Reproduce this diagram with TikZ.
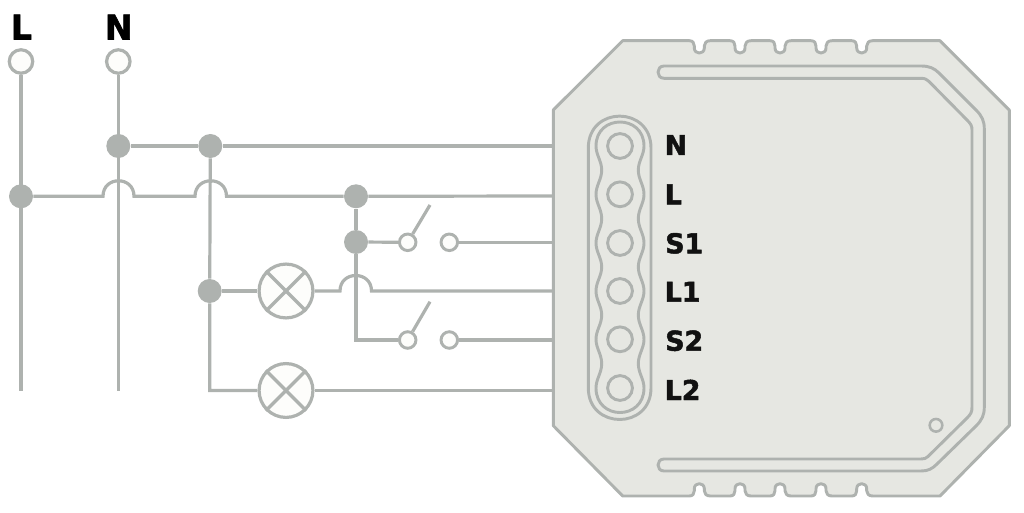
\documentclass[tikz,border=0pt]{standalone}
\usepackage{fontspec}
\setmainfont{DejaVu Sans}
\newfontfamily\heavyfont[BoldFeatures={FakeBold=1.8,FakeStretch=0.98}]{DejaVu Sans}
\definecolor{wire}{HTML}{AEB2AF}
\definecolor{bodyfill}{HTML}{E6E7E2}
\definecolor{openfill}{HTML}{FDFDFB}
\definecolor{ink}{HTML}{111111}
\tikzset{
  wireline/.style={draw=wire,line width=2.4pt,line join=miter},
  shell/.style={draw=wire,line width=2.2pt,line join=round},
  junction/.style={circle,fill=wire,draw=none,minimum size=18pt,inner sep=0pt},
  openterm/.style={circle,fill=openfill,draw=wire,line width=2.4pt,minimum size=17.6pt,inner sep=0pt},
  contact/.style={circle,fill=openfill,draw=wire,line width=2.2pt,minimum size=12.4pt,inner sep=0pt},
  lamp/.style={circle,fill=openfill,draw=wire,line width=2.4pt,minimum size=40.4pt,inner sep=0pt},
  screw/.style={circle,draw=wire,line width=2.2pt,minimum size=18.6pt,inner sep=0pt},
  pinlabel/.style={anchor=base west,inner sep=0pt,text=ink,font=\fontsize{20.5pt}{20.5pt}\heavyfont\bfseries},
  linelabel/.style={anchor=base west,inner sep=0pt,text=black,font=\fontsize{25.5pt}{25.5pt}\heavyfont\bfseries},
}
\begin{document}
\begin{tikzpicture}[x=0.75pt,y=-0.75pt]
\useasboundingbox (0,0) rectangle (1024,513);
% device body
\draw[shell,fill=bodyfill] (622.7,40.7)
  foreach \c in {699.3,740,780,821,861.7} {
    -- ({\c-10},40.7) .. controls ({\c-6.5},40.7) and ({\c-5},43) .. ({\c-5},46)
    -- ({\c-5},48) .. controls ({\c-5},54.7) and ({\c+5},54.7) .. ({\c+5},48)
    -- ({\c+5},46) .. controls ({\c+5},43) and ({\c+7},40.7) .. ({\c+11},40.7)
  }
  -- (940,40.7) -- (1009.3,110) -- (1009.3,425.7) -- (940,496)
  foreach \c in {861.7,821,780,740,699.3} {
    -- ({\c+11},496) .. controls ({\c+7},496) and ({\c+5},493.7) .. ({\c+5},490.7)
    -- ({\c+5},488.7) .. controls ({\c+5},482) and ({\c-5},482) .. ({\c-5},488.7)
    -- ({\c-5},490.7) .. controls ({\c-5},493.7) and ({\c-6.5},496) .. ({\c-10},496)
  }
  -- (622.7,496) -- (553.3,425.7) -- (553.3,110) -- cycle;
% slot
\draw[shell] (664,66) -- (921,66) .. controls (929,66) and (934,68) .. (939,73)
  -- (976,110) .. controls (982,116) and (984.3,121) .. (984.3,129)
  -- (984.3,407) .. controls (984.3,415) and (982,420) .. (976,426)
  -- (937,464) .. controls (932,469) and (928,471) .. (921,471)
  -- (664,471) .. controls (656,471) and (656,459) .. (664,459)
  -- (921,459) .. controls (924,459) and (926,458.5) .. (928,456.5)
  -- (967,418) .. controls (971,414) and (972,412) .. (972,407)
  -- (972,130) .. controls (972,126) and (971,124) .. (967,120)
  -- (929,81.5) .. controls (927,79.5) and (925,78.3) .. (921,78.3)
  -- (664,78.3) .. controls (656,78.3) and (656,66) .. (664,66) -- cycle;
% terminal block
\draw[shell] (588.3,148) .. controls (588.3,105.5) and (651,105.5) .. (651,148)
  -- (651,388) .. controls (651,430) and (588.3,430) .. (588.3,388) -- cycle;
\draw[shell] (596,146) .. controls (596,114) and (644,114) .. (644,146)
  foreach \y/\n in {146/194.3,194.3/243,243/291,291/339.3,339.3/388} {
    .. controls (644,{\y+9}) and (638.3,{\y+15}) .. (638.3,{(\y+\n)/2})
    .. controls (638.3,{\n-15}) and (644,{\n-9}) .. (644,\n)
  }
  .. controls (644,420.7) and (596,420.7) .. (596,388)
  foreach \y/\n in {388/339.3,339.3/291,291/243,243/194.3,194.3/146} {
    .. controls (596,{\y-9}) and (601.7,{\y-15}) .. (601.7,{(\y+\n)/2})
    .. controls (601.7,{\n+15}) and (596,{\n+9}) .. (596,\n)
  } -- cycle;
\node[screw] (sN) at (620,146) {};
\node[screw] (sL) at (620,194.3) {};
\node[screw] (sS1) at (620,243) {};
\node[screw] (sL1) at (620,291) {};
\node[screw] (sS2) at (620,339.3) {};
\node[screw] (sL2) at (620,388) {};
\node[circle,draw=wire,line width=1.9pt,minimum size=9.5pt,inner sep=0pt] (led) at (936,425.3) {};
% labels
\node[pinlabel] (tN) at (664.5,155) {N};
\node[pinlabel] (tL) at (664.5,204.3) {L};
\node[pinlabel] (tS1) at (665,253.3) {S1};
\node[pinlabel] (tL1) at (664.5,301.7) {L1};
\node[pinlabel] (tS2) at (665,350.7) {S2};
\node[pinlabel] (tL2) at (664.5,400) {L2};
\node[linelabel] (labL) at (10.5,39.5) {L};
\node[linelabel] (labN) at (104.5,39.5) {N};
% coordinates
\coordinate (pN) at (553.3,146);
\coordinate (pL) at (553.3,196);
\coordinate (pS1) at (553.3,242.3);
\coordinate (pL1) at (553.3,291);
\coordinate (pS2) at (553.3,340);
\coordinate (pL2) at (553.3,390.5);
\coordinate (endL) at (21,390.5);
\coordinate (endN) at (118.3,390.5);
\coordinate (h1a) at (103,196.3);
\coordinate (h1b) at (134,196.3);
\coordinate (h2a) at (195,196.3);
\coordinate (h2b) at (226.5,196.3);
\coordinate (h3a) at (340,291);
\coordinate (h3b) at (371.5,291);
\coordinate (lev1) at (430,205);
\coordinate (lev2) at (430,301.7);
% nodes
\node[openterm] (tl) at (21,61.5) {};
\node[openterm] (tn) at (118.3,61.5) {};
\node[junction] (jLa) at (21,196.3) {};
\node[junction] (jNa) at (118.3,146) {};
\node[junction] (jNb) at (210.3,146) {};
\node[junction] (jLb) at (356,196.3) {};
\node[junction] (jS) at (356,242) {};
\node[junction] (jNc) at (209.7,291) {};
\node[lamp] (la1) at (286,291) {};
\node[lamp] (la2) at (286,390.5) {};
\node[contact] (c1a) at (407.7,242.3) {};
\node[contact] (c1b) at (449.3,242.3) {};
\node[contact] (c2a) at (407.7,340) {};
\node[contact] (c2b) at (449.3,340) {};
\coordinate (turn) at (356,340);
\coordinate (turnb) at (209.7,390.5);
% lamp crosses
\foreach \l in {la1,la2} {
  \draw[wireline] (\l.45) -- (\l.225);
  \draw[wireline] (\l.135) -- (\l.315);
}
% wires
\draw[wireline] (tl) -- (endL);
\draw[wireline] (tn) -- (endN);
\draw[wireline] (jNa) -- (jNb) -- (pN);
\draw[wireline] (jNb) -- (jNc) -- (turnb) -- (la2);
\draw[wireline] (la2) -- (pL2);
\draw[wireline] (jLa) -- (h1a) .. controls +(0,-20.7) and +(0,-20.7) .. (h1b)
  -- (h2a) .. controls +(0,-20.7) and +(0,-20.7) .. (h2b) -- (jLb);
\draw[wireline] (jLb) -- (pL);
\draw[wireline] (jLb) -- (jS) -- (turn) -- (c2a);
\draw[wireline] (jS) -- (c1a);
\draw[wireline] (c1b) -- (pS1);
\draw[wireline] (c2b) -- (pS2);
\draw[wireline] (jNc) -- (la1);
\draw[wireline] (la1) -- (h3a) .. controls +(0,-20.7) and +(0,-20.7) .. (h3b) -- (pL1);
\draw[wireline] (c1a) -- (lev1);
\draw[wireline] (c2a) -- (lev2);
\end{tikzpicture}
\end{document}
